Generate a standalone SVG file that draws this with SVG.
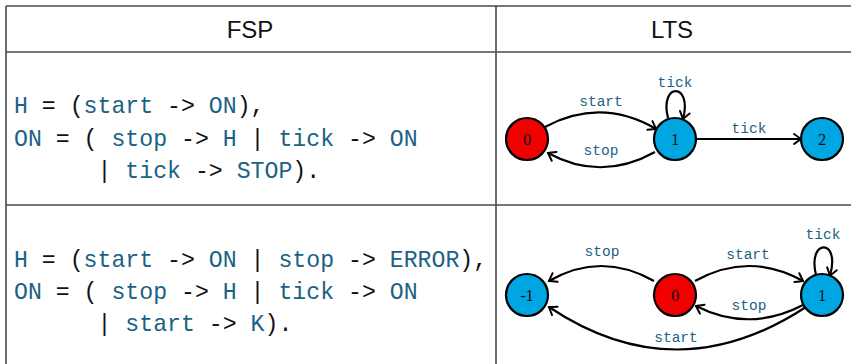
<svg xmlns="http://www.w3.org/2000/svg" width="851" height="364" viewBox="0 0 851 364">
<style>
.grid{stroke:#4a4a4a;stroke-width:1.6;fill:none}
.hdr{font-family:"Liberation Sans","DejaVu Sans",sans-serif;font-size:24px;fill:#111;text-anchor:middle}
.code{font-family:"Liberation Mono","DejaVu Sans Mono",monospace;font-size:23.2px;fill:#111;white-space:pre}
.id{fill:#1b6284}
.st{stroke:#000;stroke-width:2.2}
.red{fill:#f00000}
.blue{fill:#00a6e2}
.nl{font-family:"Liberation Serif","DejaVu Serif",serif;font-size:16.5px;fill:#111;text-anchor:middle}
.edge{fill:none;stroke:#000;stroke-width:2.2;marker-end:url(#arr)}
.el{font-family:"Liberation Mono","DejaVu Sans Mono",monospace;font-size:14.5px;fill:#1b6284;text-anchor:middle}
</style>
<defs>
<marker id="arr" markerUnits="userSpaceOnUse" markerWidth="14" markerHeight="14" refX="0" refY="0" viewBox="-8 -7 10 14" orient="auto" overflow="visible">
<path d="M -7 -5 Q -2 -1.5 0 0 Q -2 1.5 -7 5" fill="none" stroke="#000" stroke-width="2" stroke-linecap="round"/>
</marker>
</defs>
<rect width="851" height="364" fill="#fff"/>
<g id="table">
<path class="grid" d="M6 6 H851 M6 52 H851 M6 205 H851 M6 6 V364 M496 6 V364"/>
<text class="hdr" x="250" y="38">FSP</text>
<text class="hdr" x="672" y="38">LTS</text>
</g>
<g id="fsp1">
<text class="code" x="14" y="113" xml:space="preserve"><tspan class="id">H</tspan> = (<tspan class="id">start</tspan> -&gt; <tspan class="id">ON</tspan>),</text>
<text class="code" x="14" y="146" xml:space="preserve"><tspan class="id">ON</tspan> = ( <tspan class="id">stop</tspan> -&gt; <tspan class="id">H</tspan> | <tspan class="id">tick</tspan> -&gt; <tspan class="id">ON</tspan></text>
<text class="code" x="14" y="177.5" xml:space="preserve">      | <tspan class="id">tick</tspan> -&gt; <tspan class="id">STOP</tspan>).</text>
</g>
<g id="fsp2">
<text class="code" x="14" y="266.5" xml:space="preserve"><tspan class="id">H</tspan> = (<tspan class="id">start</tspan> -&gt; <tspan class="id">ON</tspan> | <tspan class="id">stop</tspan> -&gt; <tspan class="id">ERROR</tspan>),</text>
<text class="code" x="14" y="299" xml:space="preserve"><tspan class="id">ON</tspan> = ( <tspan class="id">stop</tspan> -&gt; <tspan class="id">H</tspan> | <tspan class="id">tick</tspan> -&gt; <tspan class="id">ON</tspan></text>
<text class="code" x="14" y="331" xml:space="preserve">      | <tspan class="id">start</tspan> -&gt; <tspan class="id">K</tspan>).</text>
</g>
<g id="connectors">
<path class="edge" d="M545 127 Q601 97 656 129"/>
<path class="edge" d="M655 152 Q601 182 548 153"/>
<path class="edge" d="M668 118 C659 82 693 82 683 119"/>
<path class="edge" d="M696 139 L801 139"/>
<path class="edge" d="M654 281 Q601 251 549 281"/>
<path class="edge" d="M695 281 Q749 251 803 281"/>
<path class="edge" d="M803 305 Q749 333 696 306"/>
<path class="edge" d="M806 307 Q676 392 549 307"/>
<path class="edge" d="M816 275 C807 238 841 238 830 275.5"/>
<text class="el" x="601" y="106">start</text>
<text class="el" x="601" y="155">stop</text>
<text class="el" x="675" y="87">tick</text>
<text class="el" x="749" y="132.5">tick</text>
<text class="el" x="602" y="255.5">stop</text>
<text class="el" x="748" y="259">start</text>
<text class="el" x="823" y="238.5">tick</text>
<text class="el" x="749" y="310">stop</text>
<text class="el" x="676" y="341.5">start</text>
</g>
<g id="n1_0"><circle class="st red" cx="527" cy="139" r="21"/><text class="nl" x="527" y="145">0</text></g>
<g id="n1_1"><circle class="st blue" cx="675" cy="139" r="21"/><text class="nl" x="675" y="145">1</text></g>
<g id="n1_2"><circle class="st blue" cx="822" cy="139" r="21"/><text class="nl" x="822" y="145">2</text></g>
<g id="n2_m1"><circle class="st blue" cx="527" cy="295" r="21"/><text class="nl" x="527" y="301">-1</text></g>
<g id="n2_0"><circle class="st red" cx="675" cy="295" r="21"/><text class="nl" x="675" y="301">0</text></g>
<g id="n2_1"><circle class="st blue" cx="822" cy="295" r="21"/><text class="nl" x="822" y="301">1</text></g>
</svg>
